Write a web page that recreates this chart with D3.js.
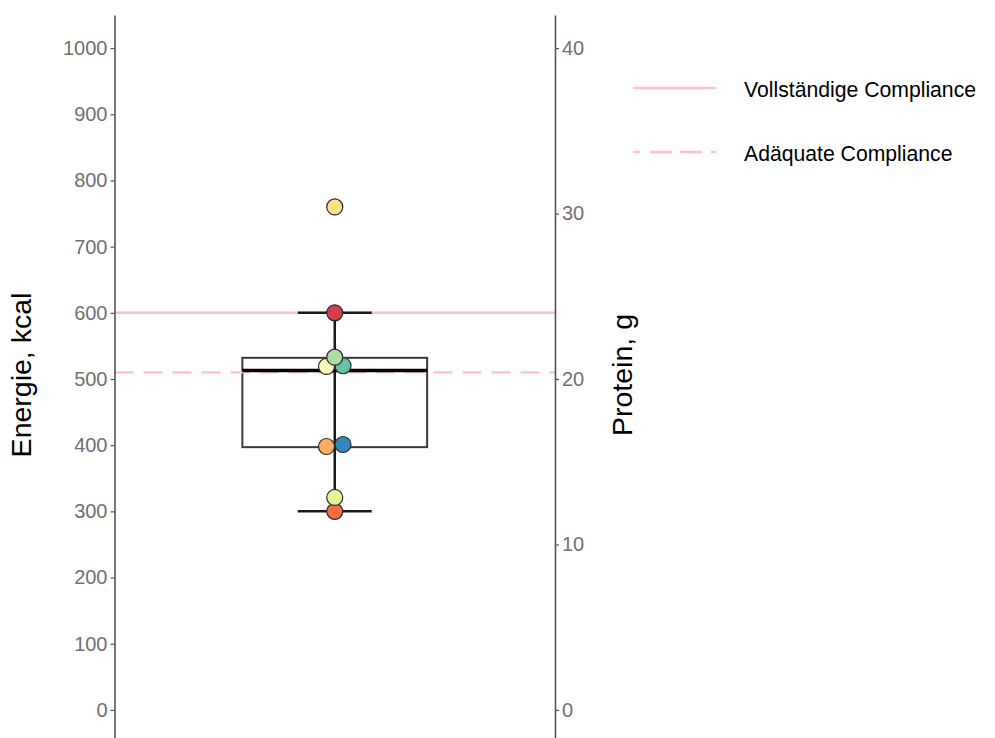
<!DOCTYPE html>
<html>
<head>
<meta charset="utf-8">
<script src="https://cdn.jsdelivr.net/npm/d3@7"></script>
<style>
  html, body { margin: 0; padding: 0; background: #fff; }
  svg { display: block; font-family: "Liberation Sans", Arial, sans-serif; }
</style>
</head>
<body>
<svg id="chart" width="995" height="738"></svg>
<script>
// Energy intake per participant (kcal), one colour per participant
const participants = ["1", "2", "3", "4", "5", "6", "7", "8", "9"];
const energyValues = [600, 300, 398, 760, 519, 321, 533, 520, 401];

// Box-plot summary of the energy intake
const boxStats = { low: 300, q1: 397, median: 513, q3: 532, high: 600 };

// Reference lines (kcal) and their legend labels
const refLabels = ["Vollständige Compliance", "Adäquate Compliance"];
const refValues = [600, 510];

// Axis ticks
const energyTicks = [0, 100, 200, 300, 400, 500, 600, 700, 800, 900, 1000];
const proteinTicks = [0, 10, 20, 30, 40];
const kcalPerGram = 25; // secondary axis: protein = energy / 25

const svg = d3.select("#chart");
const panel = { left: 114.5, right: 555, top: 15, bottom: 743 };

const y = d3.scaleLinear().domain([-50, 1050]).range([panel.bottom, panel.top]);
const yProt = d3.scaleLinear()
  .domain([-50 / kcalPerGram, 1050 / kcalPerGram])
  .range([panel.bottom, panel.top]);
const x = d3.scaleBand().domain(["all"]).range([panel.left, panel.right]).padding(0.409);
const color = d3.scaleOrdinal().domain(participants).range(d3.schemeSpectral[9]);

const cx = x("all") + x.bandwidth() / 2;

// Box (outline only)
svg.append("rect")
  .attr("x", x("all"))
  .attr("width", x.bandwidth())
  .attr("y", y(boxStats.q3))
  .attr("height", y(boxStats.q1) - y(boxStats.q3))
  .attr("fill", "none")
  .attr("stroke", "#3a3a3a")
  .attr("stroke-width", 2);

// Reference lines
const refG = svg.append("g");
refValues.forEach((v, i) => {
  refG.append("line")
    .attr("x1", panel.left).attr("x2", panel.right)
    .attr("y1", y(v)).attr("y2", y(v))
    .attr("stroke", "#ffc0cb")
    .attr("stroke-width", 2.4)
    .attr("stroke-dasharray", i === 1 ? "19 10" : null);
});

// Whiskers and caps
const capHalf = x.bandwidth() * 0.2;
const wk = svg.append("g").attr("stroke", "#1a1a1a").attr("stroke-width", 2.5);
wk.append("line").attr("x1", cx).attr("x2", cx)
  .attr("y1", y(boxStats.high)).attr("y2", y(boxStats.low));
[boxStats.low, boxStats.high].forEach(v => {
  wk.append("line").attr("x1", cx - capHalf).attr("x2", cx + capHalf)
    .attr("y1", y(v)).attr("y2", y(v));
});

// Median
svg.append("line")
  .attr("x1", x("all")).attr("x2", x("all") + x.bandwidth())
  .attr("y1", y(boxStats.median)).attr("y2", y(boxStats.median))
  .attr("stroke", "#000").attr("stroke-width", 3.5);

// Points arranged as a simple swarm: values closer than a few pixels share a row
const pts = energyValues.map((v, i) => ({ id: participants[i], v, py: y(v) }))
  .sort((a, b) => a.v - b.v);
const rows = [];
pts.forEach(p => {
  const last = rows[rows.length - 1];
  if (last && Math.abs(last[0].py - p.py) < 6) last.push(p);
  else rows.push([p]);
});
const spacing = 16.5;
rows.forEach(r => r.forEach((p, i) => { p.px = cx + (i - (r.length - 1) / 2) * spacing; }));

svg.append("g").selectAll("circle")
  .data(pts)
  .join("circle")
  .attr("cx", d => d.px)
  .attr("cy", d => d.py)
  .attr("r", 8)
  .attr("fill", d => color(d.id))
  .attr("stroke", "#2b2b2b")
  .attr("stroke-width", 1.2);

// Axes
function styleAxis(g) {
  g.select(".domain").attr("stroke", "#555").attr("stroke-width", 1.6);
  g.selectAll(".tick line").attr("stroke", "#555").attr("stroke-width", 1.2);
  g.selectAll(".tick text").attr("fill", "#707070").attr("font-size", 20)
    .attr("font-family", "'Liberation Sans', Arial, sans-serif");
}
svg.append("g")
  .attr("transform", `translate(${panel.left},0)`)
  .call(d3.axisLeft(y).tickValues(energyTicks).tickFormat(d3.format("d"))
    .tickSize(4).tickPadding(3).tickSizeOuter(0))
  .call(styleAxis);
svg.append("g")
  .attr("transform", `translate(${panel.right},0)`)
  .call(d3.axisRight(yProt).tickValues(proteinTicks).tickFormat(d3.format("d"))
    .tickSize(4).tickPadding(3).tickSizeOuter(0))
  .call(styleAxis);

// Axis titles
const titleY = 375;
svg.append("text")
  .attr("transform", `translate(31,${titleY}) rotate(-90)`)
  .attr("text-anchor", "middle")
  .attr("font-size", 28.5)
  .attr("fill", "#000")
  .text("Energie, kcal");
svg.append("text")
  .attr("transform", `translate(632,${titleY}) rotate(-90)`)
  .attr("text-anchor", "middle")
  .attr("font-size", 28.5)
  .attr("fill", "#000")
  .text("Protein, g");

// Legend
const legend = svg.append("g").attr("transform", "translate(633,88)");
refLabels.forEach((lab, i) => {
  const g = legend.append("g").attr("transform", `translate(0,${i * 64})`);
  g.append("line").attr("x1", 0).attr("x2", 83).attr("y1", 0).attr("y2", 0)
    .attr("stroke", "#ffc0cb").attr("stroke-width", 2.4)
    .attr("stroke-dasharray", i === 1 ? "7 10 22 8 22 9 5 100" : null);
  g.append("text").attr("x", 111).attr("y", 2).attr("dy", "0.35em")
    .attr("font-size", 21.2).attr("fill", "#000").text(lab);
});
</script>
</body>
</html>
